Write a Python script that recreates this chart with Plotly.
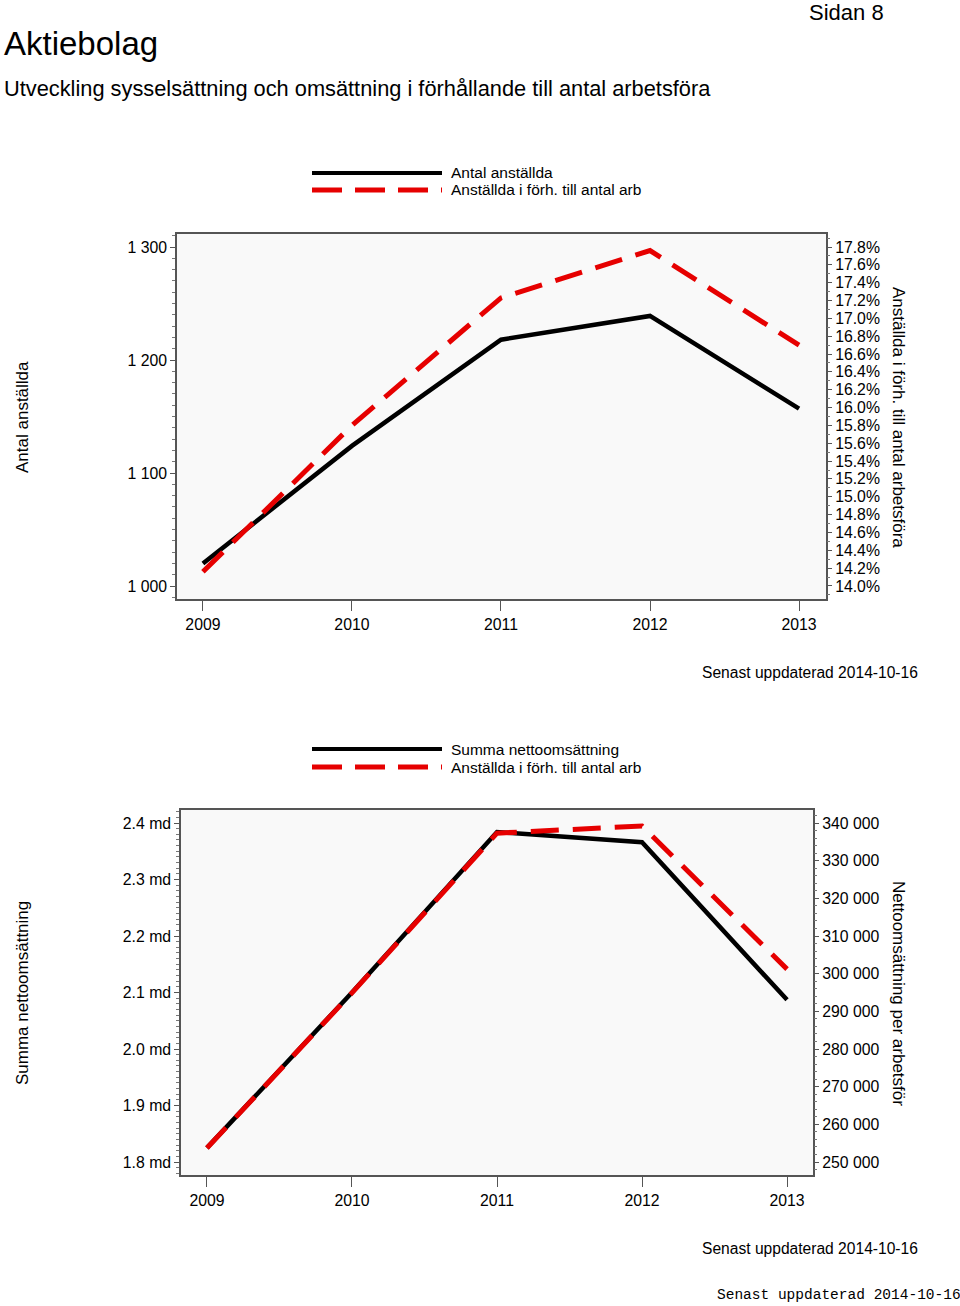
import plotly.graph_objects as go

# ---- data ----
years = [2009, 2010, 2011, 2012, 2013]
antal_anstallda = [1020, 1124, 1218, 1239, 1157]
anst_forh_pct = [14.16, 15.80, 17.23, 17.76, 16.70]
summa_netto_md = [1.825, 2.10, 2.384, 2.366, 2.087]
netto_per_arbetsfor = [253700, 294900, 337300, 339200, 301200]

W, H = 960, 1306
FONT = "Liberation Sans, Arial, sans-serif"
BLACK = "#000000"
RED = "#e60000"
FRAME = "#555555"

def px(x):
    return x / W

def py(y):
    return 1 - y / H

fig = go.Figure()

fig.add_trace(go.Scatter(x=years, y=antal_anstallda, mode="lines",
                         line=dict(color=BLACK, width=4.5), xaxis="x", yaxis="y",
                         name="Antal anställda", showlegend=False))
fig.add_trace(go.Scatter(x=years, y=anst_forh_pct, mode="lines",
                         line=dict(color=RED, width=5, dash="28px,14px"), xaxis="x", yaxis="y2",
                         name="Anställda i förh. till antal arb", showlegend=False))
fig.add_trace(go.Scatter(x=years, y=summa_netto_md, mode="lines",
                         line=dict(color=BLACK, width=4.5), xaxis="x2", yaxis="y3",
                         name="Summa nettoomsättning", showlegend=False))
fig.add_trace(go.Scatter(x=years, y=netto_per_arbetsfor, mode="lines",
                         line=dict(color=RED, width=5, dash="28px,14px"), xaxis="x2", yaxis="y4",
                         name="Anställda i förh. till antal arb", showlegend=False))

tickfont = dict(family=FONT, size=15.8, color="#000")

def xax(domain, rng, anchor):
    return dict(domain=domain, range=rng, anchor=anchor, tickvals=years,
                ticktext=[str(y) for y in years],
                showline=True, linecolor=FRAME, linewidth=1.5, mirror=True,
                ticks="outside", ticklen=10, tickcolor=FRAME, showgrid=False,
                zeroline=False, tickfont=tickfont, fixedrange=True)

def yax(rng, tick0, dtick, fmt, suffix, minor_dtick, **kw):
    d = dict(range=rng, tick0=tick0, dtick=dtick, tickformat=fmt, ticksuffix=suffix,
             ticks="outside", ticklen=5, tickcolor=FRAME, showgrid=False,
             zeroline=False, tickfont=tickfont,
             minor=dict(ticks="outside", ticklen=3, dtick=minor_dtick, tickcolor="#777", tick0=tick0))
    d.update(kw)
    return d

top_dom_y = [py(599), py(234)]
bot_dom_y = [py(1175), py(810)]

fig.update_layout(
    width=W, height=H,
    margin=dict(l=0, r=0, t=0, b=0),
    paper_bgcolor="white",
    plot_bgcolor="#f9f9f9",
    separators=". ",
    font=dict(family=FONT, color="#000"),
    xaxis=xax([px(177), px(826)], [2008.826, 2013.181], "y"),
    yaxis=yax([988.5, 1311.5], 1000, 100, ",d", "", 10, domain=top_dom_y, anchor="x",
              showline=True, linecolor=FRAME, linewidth=1.5, mirror=True),
    yaxis2=yax([13.854, 17.946], 14.0, 0.2, ".1f", "%", 0.1, overlaying="y", side="right",
               anchor="x"),
    xaxis2=xax([px(181), px(813)], [2008.821, 2013.179], "y3"),
    yaxis3=yax([1.777, 2.423], 1.8, 0.1, ".1f", " md", 0.01, domain=bot_dom_y, anchor="x2",
               showline=True, linecolor=FRAME, linewidth=1.5, mirror=True),
    yaxis4=yax([246550, 343450], 250000, 10000, ",d", "", 2000, overlaying="y3", side="right",
               anchor="x2"),
)

shapes = []
annotations = []

def legend(y_black, y_red, label_black, label_red):
    shapes.append(dict(type="line", xref="paper", yref="paper",
                       x0=px(312), x1=px(442), y0=py(y_black), y1=py(y_black),
                       line=dict(color=BLACK, width=4)))
    shapes.append(dict(type="line", xref="paper", yref="paper",
                       x0=px(312), x1=px(442), y0=py(y_red), y1=py(y_red),
                       line=dict(color=RED, width=5, dash="30px,13px")))
    for yy, txt in ((y_black, label_black), (y_red, label_red)):
        annotations.append(dict(text=txt, xref="paper", yref="paper", x=px(449), y=py(yy),
                                xanchor="left", yanchor="middle", showarrow=False,
                                font=dict(family=FONT, size=15.5, color="#000")))

legend(173, 190, "Antal anställda", "Anställda i förh. till antal arb")
legend(749, 767, "Summa nettoomsättning", "Anställda i förh. till antal arb")

def text(t, x, y, size, xanchor="left", angle=0, family=FONT):
    annotations.append(dict(text=t, xref="paper", yref="paper", x=px(x), y=py(y),
                            xanchor=xanchor, yanchor="middle", showarrow=False,
                            textangle=angle, font=dict(family=family, size=size, color="#000")))

text("Aktiebolag", 2, 43, 33)
text("Sidan 8", 886, 12, 22, xanchor="right")
text("Utveckling sysselsättning och omsättning i förhållande till antal arbetsföra", 2, 88, 21.8)

text("Antal anställda", 22, 417, 17, xanchor="center", angle=-90)
text("Anställda i förh. till antal arbetsföra", 899, 417, 17, xanchor="center", angle=90)
text("Summa nettoomsättning", 22, 993, 17, xanchor="center", angle=-90)
text("Nettoomsättning per arbetsför", 899, 993, 17, xanchor="center", angle=90)

text("Senast uppdaterad 2014-10-16", 920, 672, 15.6, xanchor="right")
text("Senast uppdaterad 2014-10-16", 920, 1248, 15.6, xanchor="right")
text("Senast uppdaterad 2014-10-16", 963, 1295, 14.5, xanchor="right",
     family="Liberation Mono, Courier New, monospace")

fig.update_layout(shapes=shapes, annotations=annotations)

fig.write_html("out.html")
